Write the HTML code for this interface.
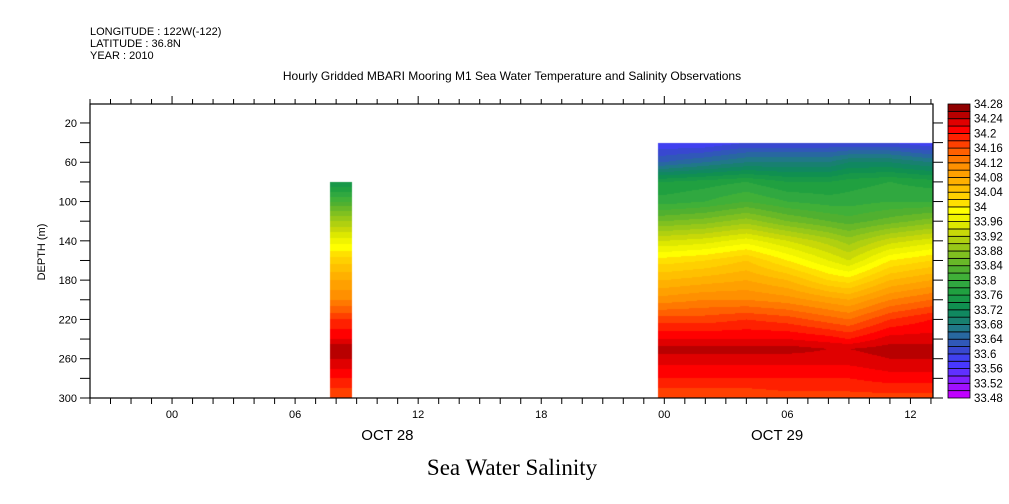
<!DOCTYPE html>
<html><head><meta charset="utf-8"><style>
body{margin:0;background:#fff;}
#wrap{position:relative;width:1009px;height:504px;overflow:hidden;background:#fff;font-family:"Liberation Sans",sans-serif;}
canvas,svg{position:absolute;left:0;top:0;}
</style></head><body>
<div id="wrap">
<canvas id="cv" width="1009" height="504"></canvas>
<svg id="sv" width="1009" height="504"></svg>
</div>
<script>
const depths=[40,60,80,100,120,140,160,180,200,220,240,250,260,280,300];
const hours=[24,26,28,30,32,33,35,37];
const h24=[33.58,33.64,33.76,33.79,33.86,33.94,34.01,34.06,34.11,34.17,34.22,34.25,34.23,34.20,34.16];
const h26=[33.58,33.66,33.77,33.80,33.87,33.95,34.02,34.07,34.12,34.17,34.22,34.25,34.23,34.20,34.16];
const h28=[33.60,33.68,33.78,33.82,33.89,33.97,34.04,34.08,34.12,34.18,34.22,34.25,34.23,34.20,34.16];
const h30=[33.60,33.68,33.76,33.80,33.86,33.94,34.00,34.06,34.11,34.17,34.22,34.25,34.23,34.20,34.17];
const h32=[33.60,33.68,33.76,33.79,33.84,33.91,33.96,34.02,34.09,34.15,34.21,34.24,34.23,34.20,34.17];
const h33=[33.60,33.70,33.77,33.79,33.83,33.89,33.94,34.01,34.08,34.14,34.20,34.24,34.23,34.20,34.17];
const h35=[33.60,33.70,33.78,33.80,33.85,33.93,34.00,34.06,34.12,34.18,34.23,34.25,34.24,34.21,34.17];
const h37=[33.58,33.68,33.77,33.80,33.87,33.95,34.02,34.08,34.14,34.20,34.23,34.25,34.24,34.21,34.17];
const stripDepths=[80,100,120,140,160,180,200,220,240,250,260,280,300];
const strip08=[33.74,33.82,33.90,33.97,34.03,34.08,34.12,34.18,34.22,34.26,34.24,34.20,34.16];
const stripHour=8;
const levelLabels=["34.28","34.24","34.2","34.16","34.12","34.08","34.04","34","33.96","33.92","33.88","33.84","33.8","33.76","33.72","33.68","33.64","33.6","33.56","33.52","33.48"];
const xTickLabels=["00","06","12","18","00","06","12"];
const xTickHours=[0,6,12,18,24,30,36];
const yTicks=[20,40,60,80,100,120,140,160,180,200,220,240,260,280,300];
const cols=[h24,h26,h28,h30,h32,h33,h35,h37];
const pal=["#c000ff","#a010ff","#8020ff","#6030ff","#4838ff","#4040f0","#3848d0","#3058b8","#2868a0","#207888","#188070","#108860","#109050","#189848","#20a040","#30a840","#40b038","#50b030","#68b828","#80c020","#98c818","#b0d010","#c8d808","#dde800","#f0f400","#ffff00","#ffe000","#ffd000","#ffc000","#ffb000","#ffa000","#ff9000","#ff7800","#ff6000","#ff4000","#ff2000","#ff0000","#e00000","#b80000","#900000"];
const X0=90,X1=933,Y0=104,Y1=398,HMIN=-4,HMAX=37.1,DMIN=0.7,DMAX=300;
const xs=h=>X0+(h-HMIN)/(HMAX-HMIN)*(X1-X0);
const ys=d=>Y0+(d-DMIN)/(DMAX-DMIN)*(Y1-Y0);
const hx=x=>HMIN+(x-X0)/(X1-X0)*(HMAX-HMIN);
const dy=y=>DMIN+(y-Y0)/(Y1-Y0)*(DMAX-DMIN);
function interp1(arr,ks,k){if(k<=ks[0])return arr[0];for(let i=1;i<ks.length;i++){if(k<=ks[i]){const t=(k-ks[i-1])/(ks[i]-ks[i-1]);return arr[i-1]*(1-t)+arr[i]*t;}}return arr[arr.length-1];}
function band(v){let b=Math.floor((v-33.48)/0.02+1e-6);return Math.max(0,Math.min(39,b));}
const ctx=document.getElementById('cv').getContext('2d');
const bx0=Math.round(xs(23.7)),by0=Math.round(ys(40));
for(let x=bx0;x<X1;x++){const h=hx(x+0.5);
 const prof=depths.map((d,i)=>interp1(cols.map(c=>c[i]),hours,h));
 for(let y=by0;y<Y1;y++){const v=interp1(prof,depths,dy(y+0.5));ctx.fillStyle=pal[band(v)];ctx.fillRect(x,y,1,1);}}
const sx0=Math.round(xs(stripHour-0.3)),sx1=Math.round(xs(stripHour+0.75)),sy0=Math.round(ys(80));
for(let y=sy0;y<Y1;y++){const v=interp1(strip08,stripDepths,dy(y+0.5));ctx.fillStyle=pal[band(v)];ctx.fillRect(sx0,y,sx1-sx0,1);}
const S=document.getElementById('sv');const NS='http://www.w3.org/2000/svg';
function mk(t,a,txt){const e=document.createElementNS(NS,t);for(const k in a)e.setAttribute(k,a[k]);if(txt!==undefined)e.textContent=txt;S.appendChild(e);return e;}
let e;
e=mk('rect',{x:X0,y:Y0,width:X1-X0,height:Y1-Y0,fill:'none',stroke:'#000','stroke-width':1.2});


for(let h=-4;h<=37;h++){const x=xs(h);const major=(h%12===0);
 e=mk('line',{x1:x,x2:x,y1:Y0,y2:Y0-(major?8:5),stroke:'#000'});
 
 
 e=mk('line',{x1:x,x2:x,y1:Y1,y2:Y1+6,stroke:'#000'});
 
 }
xTickHours.forEach((h,i)=>{e=mk('text',{x:xs(h),y:418,'font-size':11,'text-anchor':'middle'},xTickLabels[i]);
 
 });
e=mk('text',{x:xs(10.5),y:440,'font-size':15,'text-anchor':'middle'},'OCT 28');


e=mk('text',{x:xs(29.5),y:440,'font-size':15,'text-anchor':'middle'},'OCT 29');


yTicks.forEach(d=>{const y=ys(d);
 e=mk('line',{x1:X0-10,x2:X0,y1:y,y2:y,stroke:'#000'});
 
 
 e=mk('line',{x1:X1,x2:X1+10,y1:y,y2:y,stroke:'#000'});
 
 
 if(d%40===20){e=mk('text',{x:X0-13,y:y+4,'font-size':11,'text-anchor':'end'},String(d));
 
 }});
e=mk('text',{x:0,y:0,'font-size':11,'text-anchor':'middle',transform:'translate(45,252) rotate(-90)'},'DEPTH (m)');


const CB0=104,CB1=398,CX=948,CW=22;const bh=(CB1-CB0)/40;
for(let i=0;i<40;i++){e=mk('rect',{x:CX,y:CB1-(i+1)*bh,width:CW,height:bh,fill:pal[i],stroke:'#000','stroke-width':0.8});
 
 }
levelLabels.forEach((l,i)=>{e=mk('text',{x:CX+CW+4,y:CB0+i*2*bh+4,'font-size':11.5},l);
 
 });
[["LONGITUDE : 122W(-122)",35],["LATITUDE : 36.8N",47],["YEAR : 2010",59]].forEach(t=>{e=mk('text',{x:90,y:t[1],'font-size':11},t[0]);
 
 });
e=mk('text',{x:512,y:80,'font-size':12,'text-anchor':'middle'},'Hourly Gridded MBARI Mooring M1 Sea Water Temperature and Salinity Observations');


e=mk('text',{x:512,y:475,'font-size':23,'text-anchor':'middle','font-family':'Liberation Serif, serif'},'Sea Water Salinity');


</script>
</body></html>
